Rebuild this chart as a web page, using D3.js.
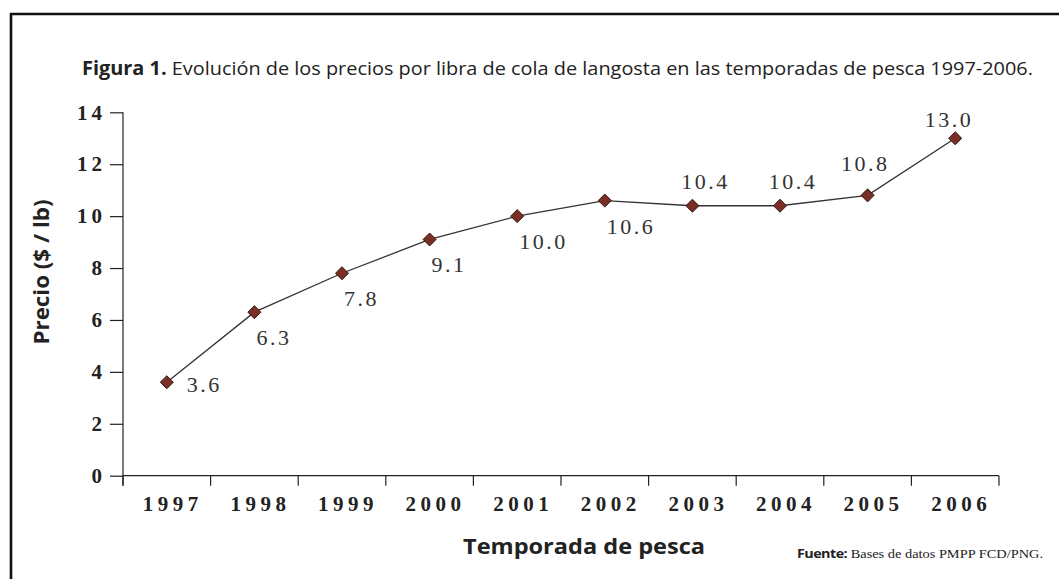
<!DOCTYPE html>
<html>
<head>
<meta charset="utf-8">
<script src="https://cdn.jsdelivr.net/npm/d3@7/dist/d3.min.js"></script>
<style>
  html, body { margin: 0; padding: 0; background: #fff; }
  svg { display: block; }
</style>
</head>
<body>
<svg id="chart" width="1059" height="579"></svg>
<script>
// ---- data ----
const years = ["1997","1998","1999","2000","2001","2002","2003","2004","2005","2006"];
const prices = [3.6, 6.3, 7.8, 9.1, 10.0, 10.6, 10.4, 10.4, 10.8, 13.0];
const valueLabels = ["3.6","6.3","7.8","9.1","10.0","10.6","10.4","10.4","10.8","13.0"];
const labelPlacement = ["right","below","below","below","below","below","above","above","aboveLeft","topLeft"];
const yTicks = [0, 2, 4, 6, 8, 10, 12, 14];
const titleBold = "Figura 1.";
const titleRest = " Evolución de los precios por libra de cola de langosta en las temporadas de pesca 1997-2006.";
const yTitle = "Precio ($ / lb)";
const xTitle = "Temporada de pesca";
const sourceBold = "Fuente:";
const sourceRest = " Bases de datos PMPP FCD/PNG.";

// ---- layout ----
const svg = d3.select("#chart");
const plotLeft = 123, plotRight = 999, plotTop = 112.3, plotBottom = 475.7;
const x = d3.scaleBand().domain(years).range([plotLeft, plotRight]).padding(0);
const y = d3.scaleLinear().domain([0, 14]).range([plotBottom, plotTop]);
const serif = "'Liberation Serif', 'DejaVu Serif', serif";
const sans = "'Open Sans', 'Noto Sans', sans-serif";

// frame
svg.append("path")
  .attr("d", `M11,600 L11,14 L1070,14`)
  .attr("fill", "none").attr("stroke", "#111").attr("stroke-width", 2.6);

// title
const title = svg.append("text")
  .attr("x", 82).attr("y", 75)
  .attr("font-family", sans).attr("font-size", 19).attr("fill", "#222")
  .attr("textLength", 951).attr("lengthAdjust", "spacingAndGlyphs");
title.append("tspan").attr("font-weight", "bold").text(titleBold);
title.append("tspan").text(titleRest);

// y axis
const yAxis = d3.axisLeft(y).tickValues(yTicks).tickSize(13).tickPadding(4).tickSizeOuter(0);
const gy = svg.append("g").attr("transform", `translate(${plotLeft},0)`).call(yAxis);
gy.select(".domain").remove();
gy.selectAll(".tick line").attr("stroke", "#222").attr("stroke-width", 1.2);
gy.selectAll(".tick text")
  .attr("font-family", serif).attr("font-weight", "bold").attr("font-size", 21)
  .attr("fill", "#222").style("letter-spacing", "4px");
svg.append("line")
  .attr("x1", plotLeft).attr("x2", plotLeft).attr("y1", y(14)).attr("y2", plotBottom + 10)
  .attr("stroke", "#222").attr("stroke-width", 1.2);

// x axis
svg.append("line")
  .attr("x1", plotLeft).attr("x2", plotRight).attr("y1", plotBottom).attr("y2", plotBottom)
  .attr("stroke", "#222").attr("stroke-width", 1.2);
const boundaries = years.map(d => x(d)).concat([plotRight]);
svg.append("g").selectAll("line").data(boundaries).join("line")
  .attr("x1", d => d).attr("x2", d => d)
  .attr("y1", plotBottom).attr("y2", plotBottom + 10)
  .attr("stroke", "#222").attr("stroke-width", 1.2);
const xAxis = d3.axisBottom(x).tickSize(0).tickPadding(20);
const gx = svg.append("g").attr("transform", `translate(0,${plotBottom})`).call(xAxis);
gx.select(".domain").remove();
gx.selectAll(".tick text")
  .attr("font-family", serif).attr("font-weight", "bold").attr("font-size", 21)
  .attr("fill", "#222").attr("dx", 6).style("letter-spacing", "4.5px");

// axis titles
svg.append("text")
  .attr("transform", "translate(49,272) rotate(-90)")
  .attr("text-anchor", "middle")
  .attr("font-family", sans).attr("font-weight", "bold").attr("font-size", 22)
  .attr("fill", "#222")
  .attr("textLength", 145).attr("lengthAdjust", "spacingAndGlyphs")
  .text(yTitle);

svg.append("text")
  .attr("x", 463).attr("y", 554)
  .attr("font-family", sans).attr("font-weight", "bold").attr("font-size", 22)
  .attr("fill", "#222")
  .attr("textLength", 242).attr("lengthAdjust", "spacingAndGlyphs")
  .text(xTitle);

const src = svg.append("text")
  .attr("x", 797).attr("y", 558)
  .attr("font-family", serif).attr("font-size", 12.5).attr("fill", "#222")
  .attr("textLength", 246).attr("lengthAdjust", "spacingAndGlyphs");
src.append("tspan").attr("font-family", sans).attr("font-weight", "bold").style("letter-spacing", "-0.5px").text(sourceBold);
src.append("tspan").text(sourceRest);

// line
const pts = years.map((yr, i) => ({ yr, v: prices[i], label: valueLabels[i], place: labelPlacement[i] }));
const cx = d => x(d.yr) + x.bandwidth() / 2;
svg.append("path")
  .datum(pts)
  .attr("d", d3.line().x(cx).y(d => y(d.v)))
  .attr("fill", "none").attr("stroke", "#333").attr("stroke-width", 1.3);

// markers
svg.append("g").selectAll("path").data(pts).join("path")
  .attr("transform", d => `translate(${cx(d)},${y(d.v)}) rotate(45)`)
  .attr("d", d3.symbol().type(d3.symbolSquare).size(85))
  .attr("fill", "#7b2e24").attr("stroke", "#2a1410").attr("stroke-width", 0.9);

// value labels
const place = {
  right:     { anchor: "start",  dx: 20, dy: 10 },
  below:     { anchor: "start",  dx: 2,  dy: 33 },
  above:     { anchor: "middle", dx: 13, dy: -17 },
  aboveLeft: { anchor: "end",    dx: 22, dy: -24 },
  topLeft:   { anchor: "end",    dx: 18, dy: -11.5 }
};
svg.append("g").selectAll("text").data(pts).join("text")
  .attr("x", d => cx(d) + place[d.place].dx)
  .attr("y", d => y(d.v) + place[d.place].dy)
  .attr("text-anchor", d => place[d.place].anchor)
  .attr("font-family", serif).attr("font-size", 22).attr("fill", "#333")
  .style("letter-spacing", "2.5px")
  .text(d => d.label);
</script>
</body>
</html>
